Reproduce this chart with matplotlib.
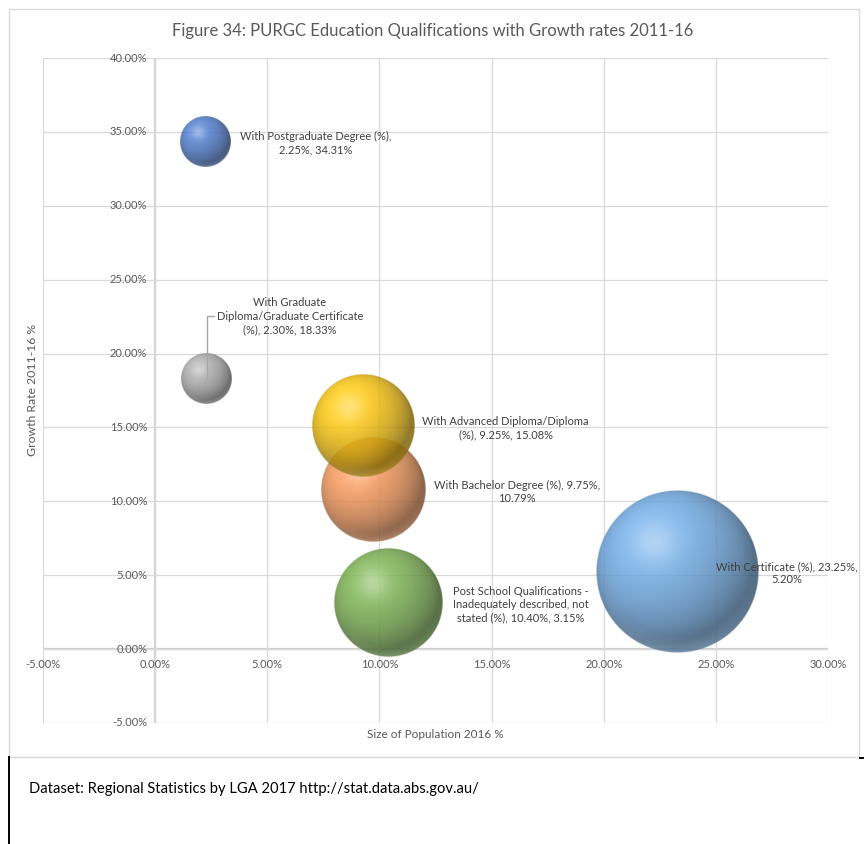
import textwrap
import numpy as np
import matplotlib
matplotlib.use("Agg")
import matplotlib.pyplot as plt
from matplotlib.colors import to_rgb
from matplotlib.patches import Rectangle
from matplotlib.lines import Line2D

# ---- data -------------------------------------------------------------
categories = [
    "With Postgraduate Degree (%)",
    "With Graduate Diploma/Graduate Certificate (%)",
    "With Advanced Diploma/Diploma (%)",
    "With Bachelor Degree (%)",
    "Post School Qualifications - Inadequately described, not stated (%)",
    "With Certificate (%)",
]
population_share = [2.25, 2.30, 9.25, 9.75, 10.40, 23.25]   # x, % of population 2016
growth_rate = [34.31, 18.33, 15.08, 10.79, 3.15, 5.20]       # y, growth 2011-16 %
bubble_size = population_share                                # bubble area
colors = ["#4F7BC9", "#A9A9A9", "#F5C211", "#F0955A", "#7AAF52", "#6FA8E0"]

x_ticks = [-5, 0, 5, 10, 15, 20, 25, 30]
y_ticks = [-5, 0, 5, 10, 15, 20, 25, 30, 35, 40]

# label layout: wrap width (chars) and offset of the label centre in pixels
wrap_width = [30, 28, 30, 32, 28, 30]
label_offset = [(110, -1), (83, 62), (143, -2), (143, -2), (132, -2), (110, -1)]

# ---- figure -----------------------------------------------------------
W, H, DPI = 864, 844, 100
FONT = "Lato"
GREY = "#595959"
plt.rcParams["font.family"] = [FONT, "DejaVu Sans"]

fig = plt.figure(figsize=(W / DPI, H / DPI), dpi=DPI)
fig.patch.set_facecolor("white")


def px_rect(x0, y0, x1, y1):
    return [x0 / W, 1 - y1 / H, (x1 - x0) / W, (y1 - y0) / H]


# chart frame
fig.patches.append(Rectangle((9 / W, 1 - 757 / H), (850) / W, (748) / H,
                             transform=fig.transFigure, fill=False,
                             edgecolor="#D9D9D9", lw=1.0, zorder=0))
# page lines below the chart
fig.lines.append(Line2D([8.5 / W, 8.5 / W], [1 - 757 / H, 0],
                        transform=fig.transFigure, color="black", lw=1.4))
fig.lines.append(Line2D([860 / W, 1], [1 - 757.5 / H, 1 - 757.5 / H],
                        transform=fig.transFigure, color="black", lw=1.4))

ax = fig.add_axes(px_rect(43, 58, 828, 723))
ax.set_xlim(x_ticks[0], x_ticks[-1])
ax.set_ylim(y_ticks[0], y_ticks[-1])
for s in ax.spines.values():
    s.set_visible(False)
ax.set_xticks(x_ticks)
ax.set_yticks(y_ticks)
ax.tick_params(length=0, labelbottom=False, labelleft=False)
ax.grid(True, color="#D9D9D9", lw=0.9, zorder=0)
ax.set_axisbelow(True)
ax.axvline(0, color="#D0D0D0", lw=1.6, zorder=0.5)
ax.axhline(0, color="#D0D0D0", lw=1.6, zorder=0.5)

# tick labels sit beside the axes crossing at zero
for yv in y_ticks:
    ax.annotate(f"{yv:.2f}%", (0, yv), xytext=(-8, 0), textcoords="offset pixels",
                ha="right", va="center", fontsize=8, color=GREY)
for xv in x_ticks:
    ax.annotate(f"{xv:.2f}%", (xv, 0), xytext=(0, -15), textcoords="offset pixels",
                ha="center", va="center", fontsize=8, color=GREY)


# ---- shaded spheres ----------------------------------------------------
def sphere_rgba(base, n=301, alpha=0.86):
    c = np.array(to_rgb(base))
    lin = np.linspace(-1, 1, n)
    u, v = np.meshgrid(lin, -lin)
    rr = u ** 2 + v ** 2
    r = np.sqrt(rr)
    z = np.sqrt(np.clip(1 - rr, 0, 1))
    L = np.array([-0.35, 0.45, 0.82])
    L /= np.linalg.norm(L)
    diff = np.clip(u * L[0] + v * L[1] + z * L[2], 0, 1)
    rgb = c[None, None, :] * (0.52 + 0.56 * diff)[..., None]
    # soft highlight towards upper left, tinted by the base colour
    light = c * 0.35 + 0.65
    d2 = (u + 0.28) ** 2 + (v - 0.36) ** 2
    hl = 0.55 * np.exp(-d2 / 0.07)
    rgb = rgb * (1 - hl[..., None]) + light[None, None, :] * hl[..., None]
    # faint reflected rim along the bottom
    rim = np.clip(-v, 0, 1) ** 2 * np.clip((r - 0.80) / 0.2, 0, 1) * 0.35
    rgb = rgb * (1 - rim[..., None]) + (c * 0.6 + 0.4)[None, None, :] * rim[..., None]
    rgb = np.clip(rgb, 0, 1)
    a = np.clip((1 - r) * n / 2.0, 0, 1) * alpha
    return np.dstack([rgb, a])


max_radius_px = 81.0
order = np.argsort(bubble_size)[::-1]          # larger bubbles go behind
x0p, y0p = ax.transData.transform((0, 0))
x1p, y1p = ax.transData.transform((1, 1))
px_per_x, px_per_y = x1p - x0p, y1p - y0p
smax = max(bubble_size)
for rank, i in enumerate(order):
    r_px = max_radius_px * np.sqrt(bubble_size[i] / smax)
    rx, ry = r_px / px_per_x, r_px / px_per_y
    xc, yc = population_share[i], growth_rate[i]
    ax.imshow(sphere_rgba(colors[i]), extent=(xc - rx, xc + rx, yc - ry, yc + ry),
              origin="upper", interpolation="bilinear", zorder=2 + rank, aspect="auto")

ax.set_xlim(x_ticks[0], x_ticks[-1])
ax.set_ylim(y_ticks[0], y_ticks[-1])

# ---- data labels -------------------------------------------------------
for i, name in enumerate(categories):
    text = f"{name}, {population_share[i]:.2f}%, {growth_rate[i]:.2f}%"
    text = textwrap.fill(text, wrap_width[i])
    dx, dy = label_offset[i]
    kw = {}
    if i == 1:
        kw["arrowprops"] = dict(arrowstyle="-", color="#A6A6A6", lw=1.0,
                                shrinkA=0, shrinkB=0, relpos=(0, 0.5),
                                connectionstyle="angle,angleA=180,angleB=90,rad=0")
    ax.annotate(text, (population_share[i], growth_rate[i]), xytext=(dx, dy),
                textcoords="offset pixels", ha="center", va="center",
                multialignment="center", fontsize=8, color="#404040",
                linespacing=1.25, zorder=20, **kw)

# ---- titles ------------------------------------------------------------
fig.text(433 / W, 1 - 31 / H,
         "Figure 34: PURGC Education Qualifications with Growth rates 2011-16",
         ha="center", va="center", fontsize=12, color=GREY)
fig.text(435 / W, 1 - 734 / H, "Size of Population 2016 %",
         ha="center", va="center", fontsize=8.5, color=GREY)
fig.text(33 / W, 1 - 390 / H, "Growth Rate 2011-16 %", rotation=90,
         ha="center", va="center", fontsize=8.8, color=GREY)
fig.text(29 / W, 1 - 789 / H,
         "Dataset: Regional Statistics by LGA 2017 http://stat.data.abs.gov.au/",
         ha="left", va="center", fontsize=10.6, color="black")

fig.savefig("out.png", dpi=DPI, facecolor="white")
